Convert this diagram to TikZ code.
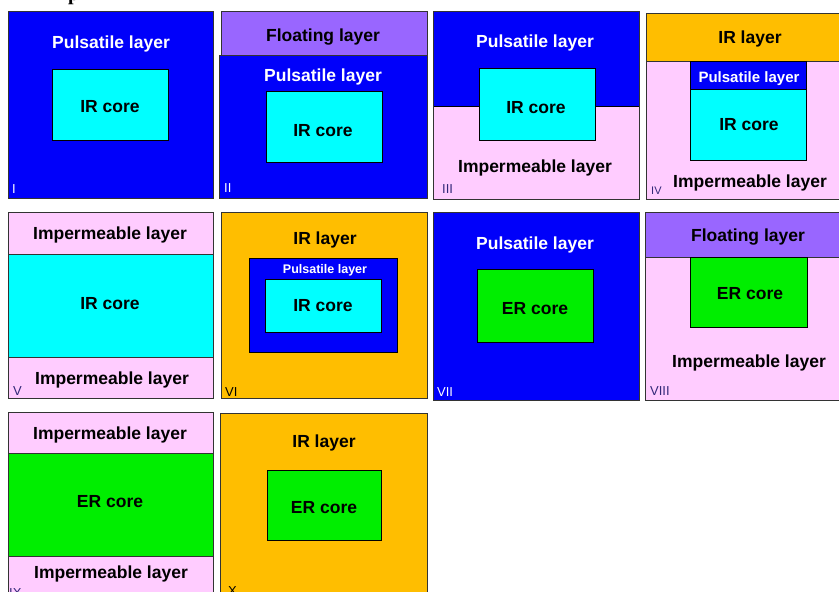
\documentclass[tikz,border=0pt]{standalone}
\usepackage{fontspec}
\setmainfont{Liberation Sans}
\newfontfamily\serifbf{Liberation Serif}
\definecolor{pblue}{RGB}{0,0,250}
\definecolor{pcyan}{RGB}{0,255,255}
\definecolor{pgreen}{RGB}{0,238,0}
\definecolor{ppink}{RGB}{255,204,255}
\definecolor{porange}{RGB}{255,190,0}
\definecolor{ppurple}{RGB}{153,102,255}
\definecolor{pnavy}{RGB}{50,40,120}
\tikzset{
  panel/.style={draw=black!80, line width=1pt},
  inbox/.style={draw=black, line width=1pt},
  wt/.style={anchor=base, inner sep=0pt, text=white, font=\bfseries\fontsize{17.5}{18}\selectfont},
  dt/.style={anchor=base, inner sep=0pt, text=black, font=\bfseries\fontsize{17.5}{18}\selectfont},
  wsmall/.style={anchor=base, inner sep=0pt, text=white, font=\bfseries\fontsize{15}{15}\selectfont},
  wtiny/.style={anchor=base, inner sep=0pt, text=white, font=\bfseries\fontsize{12.5}{13}\selectfont},
  numw/.style={anchor=base west, inner sep=0pt, text=white, font=\fontsize{13}{13}\selectfont},
  numd/.style={anchor=base west, inner sep=0pt, text=pnavy, font=\fontsize{13}{13}\selectfont},
  numk/.style={anchor=base west, inner sep=0pt, text=black, font=\fontsize{13}{13}\selectfont}
}
\begin{document}
\begin{tikzpicture}[x=1pt,y=-1pt]
\useasboundingbox (0,0) rectangle (839,592);
\clip (0,0) rectangle (839,592);
\fill[white] (0,0) rectangle (839,592);
% cut-off heading letter
\node[anchor=base west, inner sep=0pt, font=\serifbf\bfseries\fontsize{20}{20}\selectfont] (head) at (68,0.8) {p};

% ---------- I ----------
\draw[panel, fill=pblue] (8,11) rectangle (213,198);
\draw[inbox, fill=pcyan] (52,69) rectangle (168,140);
\node[wt] (t1a) at (111,48) {Pulsatile layer};
\node[dt] (t1b) at (110,112) {IR core};
\node[numw] (n1) at (12,193) {I};

% ---------- II ----------
\draw[panel, fill=ppurple] (221,11) rectangle (427,55);
\draw[panel, fill=pblue] (219,55) rectangle (427,198);
\draw[inbox, fill=pcyan] (266,91) rectangle (382,162);
\node[dt] (t2a) at (323,41) {Floating layer};
\node[wt] (t2b) at (323,81) {Pulsatile layer};
\node[dt] (t2c) at (323,136) {IR core};
\node[numw] (n2) at (224,192) {II};

% ---------- III ----------
\fill[pblue] (433,11) rectangle (639,106);
\fill[ppink] (433,106) rectangle (639,199);
\draw[inbox] (433,106) -- (639,106);
\draw[panel] (433,11) rectangle (639,199);
\draw[inbox, fill=pcyan] (479,68) rectangle (595,140);
\node[wt] (t3a) at (535,47) {Pulsatile layer};
\node[dt] (t3b) at (536,113) {IR core};
\node[dt] (t3c) at (535,172) {Impermeable layer};
\node[numd] (n3) at (442,193) {III};

% ---------- IV ----------
\draw[panel, fill=porange] (646,13) rectangle (850,61);
\draw[panel, fill=ppink] (646,61) rectangle (850,199);
\draw[inbox, fill=pblue] (690,61) rectangle (806,89);
\draw[inbox, fill=pcyan] (690,89) rectangle (806,160);
\node[dt] (t4a) at (750,43) {IR layer};
\node[wsmall] (t4b) at (749,82) {Pulsatile layer};
\node[dt] (t4c) at (749,130) {IR core};
\node[dt] (t4d) at (750,187) {Impermeable layer};
\node[numd, font=\fontsize{11}{11}\selectfont] (n4) at (651,194) {IV};

% ---------- V ----------
\draw[panel, fill=ppink] (8,212) rectangle (213,254);
\draw[panel, fill=pcyan] (8,254) rectangle (213,357);
\draw[panel, fill=ppink] (8,357) rectangle (213,398);
\node[dt] (t5a) at (110,239) {Impermeable layer};
\node[dt] (t5b) at (110,309) {IR core};
\node[dt] (t5c) at (112,384) {Impermeable layer};
\node[numd] (n5) at (13,395) {V};

% ---------- VI ----------
\draw[panel, fill=porange] (221,212) rectangle (427,398);
\draw[inbox, fill=pblue] (249,258) rectangle (397,352);
\draw[inbox, fill=pcyan] (265,279) rectangle (381,332);
\node[dt] (t6a) at (325,244) {IR layer};
\node[wtiny] (t6b) at (325,273) {Pulsatile layer};
\node[dt] (t6c) at (323,311) {IR core};
\node[numk] (n6) at (225,396) {VI};

% ---------- VII ----------
\draw[panel, fill=pblue] (433,212) rectangle (639,400);
\draw[inbox, fill=pgreen] (477,269) rectangle (593,342);
\node[wt] (t7a) at (535,249) {Pulsatile layer};
\node[dt] (t7b) at (535,314) {ER core};
\node[numw] (n7) at (437,396) {VII};

% ---------- VIII ----------
\draw[panel, fill=ppurple] (645,212) rectangle (850,257);
\draw[panel, fill=ppink] (645,257) rectangle (850,400);
\draw[inbox, fill=pgreen] (690,257) rectangle (807,327);
\node[dt] (t8a) at (748,241) {Floating layer};
\node[dt] (t8b) at (750,299) {ER core};
\node[dt] (t8c) at (749,367) {Impermeable layer};
\node[numd] (n8) at (650,395) {VIII};

% ---------- IX ----------
\draw[panel, fill=ppink] (8,412) rectangle (213,453);
\draw[panel, fill=pgreen] (8,453) rectangle (213,556);
\draw[panel, fill=ppink] (8,556) rectangle (213,600);
\node[dt] (t9a) at (110,439) {Impermeable layer};
\node[dt] (t9b) at (110,507) {ER core};
\node[dt] (t9c) at (111,578) {Impermeable layer};
\node[numd] (n9) at (9,597) {IX};

% ---------- X ----------
\draw[panel, fill=porange] (220,413) rectangle (427,600);
\draw[inbox, fill=pgreen] (267,470) rectangle (381,540);
\node[dt] (t10a) at (324,447) {IR layer};
\node[dt] (t10b) at (324,513) {ER core};
\node[numk] (n10) at (228,595) {X};
\end{tikzpicture}
\end{document}
